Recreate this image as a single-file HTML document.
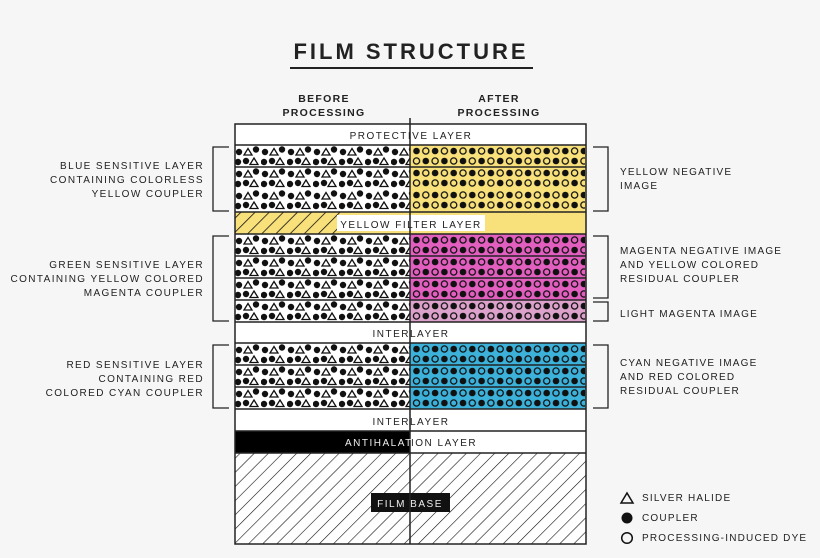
<!DOCTYPE html>
<html><head><style>
body{margin:0;background:#f6f6f6;}
svg{display:block;}
text{font-family:"Liberation Sans",sans-serif;fill:#222;}
</style></head><body>
<svg width="820" height="558" viewBox="0 0 820 558" xmlns="http://www.w3.org/2000/svg">
<defs>
<pattern id="L" x="235" y="0" width="26" height="22" patternUnits="userSpaceOnUse">
 <circle cx="4" cy="7" r="3.2" fill="#111"/>
 <polygon points="9,10 13,3.5 17,10" fill="none" stroke="#111" stroke-width="1.3"/>
 <circle cx="21" cy="4.5" r="3.2" fill="#111"/>
 <circle cx="3" cy="17" r="3.2" fill="#111"/>
 <circle cx="11" cy="16" r="3.2" fill="#111"/>
 <polygon points="15,19.5 19,13 23,19.5" fill="none" stroke="#111" stroke-width="1.3"/>
</pattern>
<pattern id="R" x="412" y="0" width="18.6" height="22" patternUnits="userSpaceOnUse">
 <circle cx="4.5" cy="6" r="3.3" fill="#111"/>
 <circle cx="13.8" cy="6" r="3.1" fill="none" stroke="#111" stroke-width="1.3"/>
 <circle cx="13.8" cy="16" r="3.3" fill="#111"/>
 <circle cx="4.5" cy="16" r="3.1" fill="none" stroke="#111" stroke-width="1.3"/>
</pattern>
<pattern id="H" width="10" height="10" patternUnits="userSpaceOnUse" patternTransform="rotate(45)">
 <line x1="0" y1="0" x2="0" y2="10" stroke="#111" stroke-width="1.2"/>
</pattern>
<pattern id="HY" width="10" height="10" patternUnits="userSpaceOnUse" patternTransform="rotate(45)">
 <line x1="0" y1="0" x2="0" y2="10" stroke="#111" stroke-width="1.6"/>
</pattern>
</defs>

<text x="411" y="59" text-anchor="middle" font-size="22" font-weight="bold" letter-spacing="3">FILM STRUCTURE</text>
<line x1="290" y1="68" x2="533" y2="68" stroke="#222" stroke-width="2"/>
<g font-size="10.5" font-weight="bold" letter-spacing="1.3" text-anchor="middle">
<text x="324" y="102">BEFORE</text>
<text x="324" y="116">PROCESSING</text>
<text x="499" y="102">AFTER</text>
<text x="499" y="116">PROCESSING</text>
</g>

<rect x="235" y="124" width="351" height="420" fill="#fff"/>
<rect x="410" y="145" width="176" height="67" fill="#f8e07a"/>
<rect x="410" y="234" width="176" height="66" fill="#e25fc0"/>
<rect x="410" y="300" width="176" height="22" fill="#dca2cb"/>
<rect x="410" y="343" width="176" height="66" fill="#3cb1da"/>

<g transform="translate(0,145)"><rect x="235" y="0" width="175" height="22" fill="url(#L)"/><rect x="411" y="0" width="174" height="22" fill="url(#R)"/></g>
<g transform="translate(0,167)"><rect x="235" y="0" width="175" height="45" fill="url(#L)"/><rect x="411" y="0" width="174" height="45" fill="url(#R)"/></g>
<g transform="translate(0,234)"><rect x="235" y="0" width="175" height="22" fill="url(#L)"/><rect x="411" y="0" width="174" height="22" fill="url(#R)"/></g>
<g transform="translate(0,256)"><rect x="235" y="0" width="175" height="22" fill="url(#L)"/><rect x="411" y="0" width="174" height="22" fill="url(#R)"/></g>
<g transform="translate(0,278)"><rect x="235" y="0" width="175" height="22" fill="url(#L)"/><rect x="411" y="0" width="174" height="22" fill="url(#R)"/></g>
<g transform="translate(0,300)"><rect x="235" y="0" width="175" height="22" fill="url(#L)"/><rect x="411" y="0" width="174" height="22" fill="url(#R)"/></g>
<g transform="translate(0,343)"><rect x="235" y="0" width="175" height="22" fill="url(#L)"/><rect x="411" y="0" width="174" height="22" fill="url(#R)"/></g>
<g transform="translate(0,365)"><rect x="235" y="0" width="175" height="22" fill="url(#L)"/><rect x="411" y="0" width="174" height="22" fill="url(#R)"/></g>
<g transform="translate(0,387)"><rect x="235" y="0" width="175" height="22" fill="url(#L)"/><rect x="411" y="0" width="174" height="22" fill="url(#R)"/></g>

<rect x="235" y="212" width="351" height="22" fill="#f8e07a"/>
<rect x="235" y="212" width="105" height="22" fill="url(#HY)"/>
<rect x="337" y="215" width="148" height="16" fill="#fff"/>
<rect x="235" y="431" width="175" height="22" fill="#000"/>
<rect x="235" y="453" width="351" height="91" fill="url(#H)"/>
<rect x="371" y="493" width="79" height="19" fill="#111"/>

<g stroke="#222" stroke-width="1.5" fill="none">
<rect x="235" y="124" width="351" height="420"/>
<line x1="235" y1="145" x2="586" y2="145"/>
<line x1="235" y1="167" x2="586" y2="167"/>
<line x1="235" y1="212" x2="586" y2="212"/>
<line x1="235" y1="234" x2="586" y2="234"/>
<line x1="235" y1="256" x2="586" y2="256"/>
<line x1="235" y1="278" x2="586" y2="278"/>
<line x1="235" y1="300" x2="586" y2="300"/>
<line x1="235" y1="322" x2="586" y2="322"/>
<line x1="235" y1="343" x2="586" y2="343"/>
<line x1="235" y1="365" x2="586" y2="365"/>
<line x1="235" y1="387" x2="586" y2="387"/>
<line x1="235" y1="409" x2="586" y2="409"/>
<line x1="235" y1="431" x2="586" y2="431"/>
<line x1="235" y1="453" x2="586" y2="453"/>
<line x1="410" y1="118" x2="410" y2="544"/>
</g>

<g font-size="10" letter-spacing="1.5" text-anchor="middle">
<text x="411" y="139">PROTECTIVE LAYER</text>
<text x="411" y="228">YELLOW FILTER LAYER</text>
<text x="411" y="337">INTERLAYER</text>
<text x="411" y="425">INTERLAYER</text>
<text x="410" y="507" style="fill:#eee">FILM BASE</text>
</g>
<text x="345" y="446" font-size="10" letter-spacing="1.5" style="fill:#eee">ANTIHALAT</text>
<text x="411" y="446" font-size="10" letter-spacing="1.5">ION LAYER</text>

<g stroke="#222" stroke-width="1.3" fill="none">
<polyline points="229,147 213,147 213,211 229,211"/>
<polyline points="229,236 213,236 213,321 229,321"/>
<polyline points="229,345 213,345 213,408 229,408"/>
<polyline points="593,147 608,147 608,211 593,211"/>
<polyline points="593,236 608,236 608,298 593,298"/>
<polyline points="593,302 608,302 608,321 593,321"/>
<polyline points="593,345 608,345 608,408 593,408"/>
</g>
<g font-size="10" letter-spacing="1.4" text-anchor="end">
<text x="204" y="169">BLUE SENSITIVE LAYER</text>
<text x="204" y="183">CONTAINING COLORLESS</text>
<text x="204" y="197">YELLOW COUPLER</text>
<text x="204" y="268">GREEN SENSITIVE LAYER</text>
<text x="204" y="282">CONTAINING YELLOW COLORED</text>
<text x="204" y="296">MAGENTA COUPLER</text>
<text x="204" y="368">RED SENSITIVE LAYER</text>
<text x="204" y="382">CONTAINING RED</text>
<text x="204" y="396">COLORED CYAN COUPLER</text>
</g>
<g font-size="10" letter-spacing="1.2">
<text x="620" y="175">YELLOW NEGATIVE</text>
<text x="620" y="189">IMAGE</text>
<text x="620" y="254">MAGENTA NEGATIVE IMAGE</text>
<text x="620" y="268">AND YELLOW COLORED</text>
<text x="620" y="282">RESIDUAL COUPLER</text>
<text x="620" y="317">LIGHT MAGENTA IMAGE</text>
<text x="620" y="366">CYAN NEGATIVE IMAGE</text>
<text x="620" y="380">AND RED COLORED</text>
<text x="620" y="394">RESIDUAL COUPLER</text>
<text x="642" y="501">SILVER HALIDE</text>
<text x="642" y="521">COUPLER</text>
<text x="642" y="541">PROCESSING-INDUCED DYE</text>
</g>
<polygon points="621,503 627,493 633,503" fill="none" stroke="#111" stroke-width="1.5"/>
<circle cx="627" cy="518" r="5.5" fill="#111"/>
<circle cx="627" cy="538" r="5.3" fill="none" stroke="#111" stroke-width="1.5"/>
</svg>
</body></html>
